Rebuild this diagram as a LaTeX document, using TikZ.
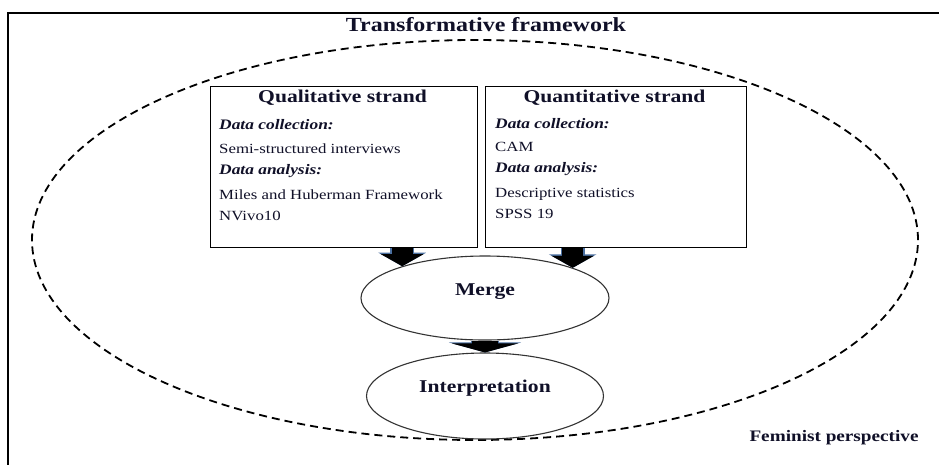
\documentclass[tikz,border=0pt]{standalone}
\usepackage{fontspec}
\setmainfont{Liberation Serif}[FakeStretch=1.2]
\usetikzlibrary{arrows.meta,shapes.geometric,calc}
\definecolor{arrowblue}{HTML}{4A6FA0}
\definecolor{inkc}{HTML}{101028}
\begin{document}
\begin{tikzpicture}[x=1pt,y=-1pt,
  strandbox/.style={draw, line width=1.2pt, inner sep=0pt, anchor=north west, minimum height=161pt},
  title/.style={font=\fontsize{18}{20}\selectfont\bfseries, text=inkc, anchor=mid, inner sep=0pt},
  head/.style={font=\fontsize{14.5}{16}\selectfont\bfseries\itshape, text=inkc, anchor=mid west, inner sep=0pt},
  body/.style={font=\fontsize{14}{16}\selectfont, text=inkc, anchor=mid west, inner sep=0pt},
  stage/.style={draw=black!80, line width=1.1pt, ellipse, inner sep=0pt},
  stagetext/.style={font=\fontsize{18}{20}\selectfont\bfseries, text=inkc},
  blockarrow/.style={line width=21pt, black, -{Triangle[length=12pt,width=42pt]},
     preaction={draw=arrowblue, line width=24pt, -{Triangle[length=13.5pt,width=47pt]}}},
  flatarrow/.style={line width=26pt, black, -{Triangle[length=9pt,width=66pt]},
     preaction={draw=arrowblue, line width=28pt, -{Triangle[length=10pt,width=72pt]}}}
]
\useasboundingbox (0,0) rectangle (939,464);
\clip (0,0) rectangle (939,464);
\fill[white] (0,0) rectangle (939,464);
% outer frame (open to the right and bottom)
\draw[line width=2pt] (8,480) -- (8,13) -- (960,13);

% perspective ellipse
\node[draw, ellipse, line width=1.8pt, dash pattern=on 8pt off 5pt, inner sep=0pt,
      minimum width=886pt, minimum height=400pt] (persp) at (475,240) {};

\node[font=\fontsize{20}{22}\selectfont\bfseries, text=inkc, anchor=mid] (tf) at (486,29) {Transformative framework};
\node[font=\fontsize{16}{18}\selectfont\bfseries, text=inkc, anchor=mid] (fem) at (834,439) {Feminist perspective};

% strands
\node[strandbox, minimum width=267pt] (qual) at (210,86) {};
\node[strandbox, minimum width=261pt] (quant) at (485,86) {};

\node[title] (qualtitle) at (342.5,100) {Qualitative strand};
\node[head] (qdc) at (219,127) {Data collection:};
\node[body] (qsemi) at (219,151) {Semi-structured interviews};
\node[head] (qda) at (219,172) {Data analysis:};
\node[body] (qmiles) at (219,197) {Miles and Huberman Framework};
\node[body] (qnv) at (219,218) {NVivo10};

\node[title] (quanttitle) at (614.5,100) {Quantitative strand};
\node[head] (ndc) at (495,126) {Data collection:};
\node[body] (ncam) at (495,149) {CAM};
\node[head] (nda) at (495,170) {Data analysis:};
\node[body] (ndesc) at (495,195) {Descriptive statistics};
\node[body] (nspss) at (495,216) {SPSS 19};

% stages
\node[stage, minimum width=248pt, minimum height=84pt,
      label={[name=mergetext, stagetext, yshift=6pt]center:Merge}] (merge) at (485,298) {};
\node[stage, minimum width=237pt, minimum height=86pt,
      label={[name=interptext, stagetext, yshift=8pt]center:Interpretation}] (interp) at (485,396) {};

% arrows
\draw[blockarrow] (qual.south -| merge.159) -- (merge.159);
\draw[blockarrow] (quant.south -| merge.19) -- (merge.19);
\draw[flatarrow] (merge.south) -- (interp.north);
\end{tikzpicture}
\end{document}
